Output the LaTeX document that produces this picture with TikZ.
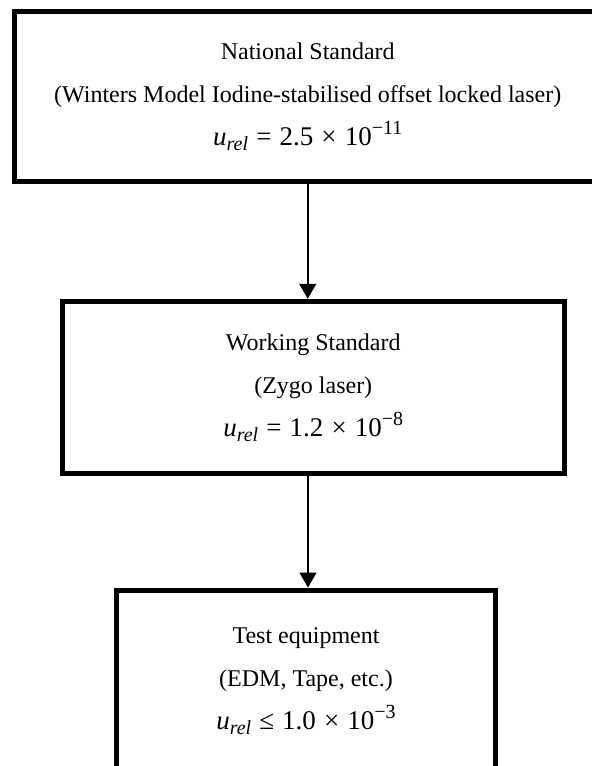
\documentclass[tikz,border=0pt]{standalone}
\usepackage{fontspec}
\setmainfont{Liberation Serif}
\usetikzlibrary{arrows.meta}

% relative uncertainty line, set in text with slightly larger type
\newcommand{\urel}{\textit{u}\raisebox{-0.4ex}{\fontsize{10}{11}\selectfont\itshape rel}}
\newcommand{\tenpow}[1]{10\raisebox{0.85ex}{\fontsize{10}{11}\selectfont #1}}
\newcommand{\rel}[1]{\hspace{0.3em}#1\hspace{0.3em}}
\newcommand{\uline}[1]{{\fontsize{13.5}{21.5}\selectfont #1}}

\begin{document}
\begin{tikzpicture}[x=0.5pt, y=-0.5pt,
  stdbox/.style={draw=black, line width=2.5pt, fill=white, align=center,
    inner sep=0pt, font=\fontsize{12}{21.5}\selectfont},
  flow/.style={-{Triangle[width=8.5pt,length=7.5pt]}, line width=0.8pt}]
  \useasboundingbox (0,0) rectangle (592,766);
  \clip (0,0) rectangle (592,766);

  \node[stdbox, minimum width=293.25pt, minimum height=85.25pt] (national) at (307.75,96.5)
    {National Standard\\(Winters Model Iodine-stabilised offset locked laser)\\\uline{\urel\rel{=}2.5\rel{×}\tenpow{−11}}};

  \node[stdbox, minimum width=250.75pt, minimum height=86.25pt] (working) at (313.25,387.5)
    {Working Standard\\(Zygo laser)\\\uline{\urel\rel{=}1.2\rel{×}\tenpow{−8}}};

  \node[stdbox, minimum width=189.5pt, minimum height=91pt] (test) at (306,681)
    {Test equipment\\(EDM, Tape, etc.)\\\uline{\urel\rel{≤}1.0\rel{×}\tenpow{−3}}};

  \draw[flow] (national.south) -- (national.south |- working.north);
  \draw[flow] ([xshift=1pt]test.north |- working.south) -- ([xshift=1pt]test.north);
\end{tikzpicture}
\end{document}
